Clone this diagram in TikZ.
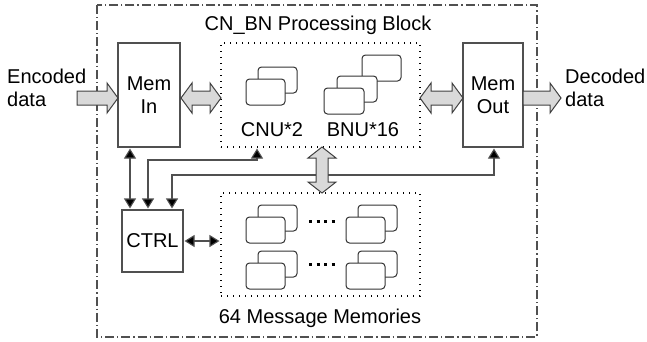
\documentclass[tikz,border=0pt]{standalone}
\usepackage{fontspec}
\setmainfont{Liberation Sans}
\usetikzlibrary{arrows.meta}
\definecolor{boxgray}{HTML}{505050}
\definecolor{fatfill}{HTML}{D9D9D9}
\definecolor{fatline}{HTML}{404040}
\newcommand\hfatdbl[3]{% x1, x2, yc
  \draw[fatarr] (#1,#3) -- ({#1+11},{#3-15}) -- ({#1+11},{#3-7}) -- ({#2-11},{#3-7}) -- ({#2-11},{#3-15}) -- (#2,#3) -- ({#2-11},{#3+15}) -- ({#2-11},{#3+7}) -- ({#1+11},{#3+7}) -- ({#1+11},{#3+15}) -- cycle;}
\newcommand\hfatsgl[3]{% x1, x2, yc
  \draw[fatarr] (#1,{#3-7}) -- ({#2-11},{#3-7}) -- ({#2-11},{#3-15}) -- (#2,#3) -- ({#2-11},{#3+15}) -- ({#2-11},{#3+7}) -- (#1,{#3+7}) -- cycle;}
\newcommand\vfatdbl[3]{% y1, y2, xc
  \draw[fatarr] (#3,#1) -- ({#3+14},{#1+11}) -- ({#3+6},{#1+11}) -- ({#3+6},{#2-11}) -- ({#3+14},{#2-11}) -- (#3,#2) -- ({#3-14},{#2-11}) -- ({#3-6},{#2-11}) -- ({#3-6},{#1+11}) -- ({#3-14},{#1+11}) -- cycle;}
\newcommand\unitstack[2]{% back-rect top-left corner x,y ; front offset (-12,+12)
  \draw[ubox] (#1,#2) rectangle ++(39,26);
  \draw[ubox] ({#1-12},{#2+12}) rectangle ++(39,26);}
\begin{document}
\begin{tikzpicture}[x=1pt,y=-1pt,
  font=\fontsize{20}{24}\selectfont,
  box/.style={draw=boxgray, line width=1.1pt, fill=white, inner sep=0pt, align=center},
  dotbox/.style={draw=black, line width=1.1pt, dash pattern=on 1.1pt off 4.9pt, inner sep=0pt},
  frame/.style={draw=boxgray, line width=1.1pt, dash pattern=on 9pt off 3pt on 1.2pt off 3pt},
  ubox/.style={draw=black!80, line width=1pt, fill=white, rounded corners=3.5pt},
  conn/.style={draw=boxgray, line width=1.1pt},
  biarr/.style={conn, {Triangle[width=12pt,length=10pt,fill=black]}-{Triangle[width=12pt,length=10pt,fill=black]}, shorten <=1pt, shorten >=1pt},
  fatarr/.style={draw=fatline, line width=1pt, fill=fatfill, line join=miter},
  lbl/.style={inner sep=0pt, align=left, text=black},
  ellip/.style={line width=3pt, dash pattern=on 3pt off 4.5pt},
]
\useasboundingbox (0,0) rectangle (647,341);
% outer frame
\draw[frame] (97,5) rectangle (537,337);
\node[lbl] (title) at (318,25) {CN\_BN Processing Block};
% main boxes
\node[box, minimum width=62pt, minimum height=104pt] (memin) at (149,95) {Mem\\[-1pt]In};
\node[box, minimum width=60pt, minimum height=104pt] (memout) at (493,95) {Mem\\[-1pt]Out};
\node[box, minimum width=61pt, minimum height=62pt] (ctrl) at (152.5,241) {CTRL};
\node[dotbox, minimum width=199pt, minimum height=104pt] (pu) at (320.5,95) {};
\node[dotbox, minimum width=199pt, minimum height=103pt] (mm) at (320.5,244.5) {};
% processing units
\unitstack{258}{67}
\draw[ubox] (362,55) rectangle ++(39,26);
\draw[ubox] (337,76) rectangle ++(40,26);
\draw[ubox] (324,88) rectangle ++(40,26);
\node[lbl] (cnu) at (272,130) {CNU*2};
\node[lbl] (bnu) at (363,130) {BNU*16};
% message memories
\unitstack{258}{205}
\unitstack{258}{251}
\unitstack{358}{205}
\unitstack{358}{251}
\draw[ellip] (309,221) -- (336,221);
\draw[ellip] (309,264) -- (336,264);
\node[lbl] (mmlbl) at (320,318) {64 Message Memories};
% input / output labels
\node[lbl, anchor=west] (enc) at (7,88) {Encoded\\[-1pt]data};
\node[lbl, anchor=west] (dec) at (565,88) {Decoded\\[-1pt]data};
% thin connectors
\coordinate (b1) at (257,160);
\coordinate (b2) at (148,160);
\coordinate (b3) at (494,175);
\coordinate (b4) at (172,175);
\coordinate (b5) at (130,0);
\draw[biarr] (b5 |- memin.south) -- (b5 |- ctrl.north);
\draw[biarr] (b1 |- pu.south) -- (b1) -- (b2) -- (b2 |- ctrl.north);
\draw[biarr] (b3 |- memout.south) -- (b3) -- (b4) -- (b4 |- ctrl.north);
\draw[biarr] (ctrl.east) -- (ctrl.east -| mm.west);
% fat arrows
\hfatsgl{77}{118}{98}
\hfatdbl{181}{221}{98}
\hfatdbl{420}{463}{98}
\hfatsgl{523}{561}{98}
\vfatdbl{147}{193}{322}
\end{tikzpicture}
\end{document}
